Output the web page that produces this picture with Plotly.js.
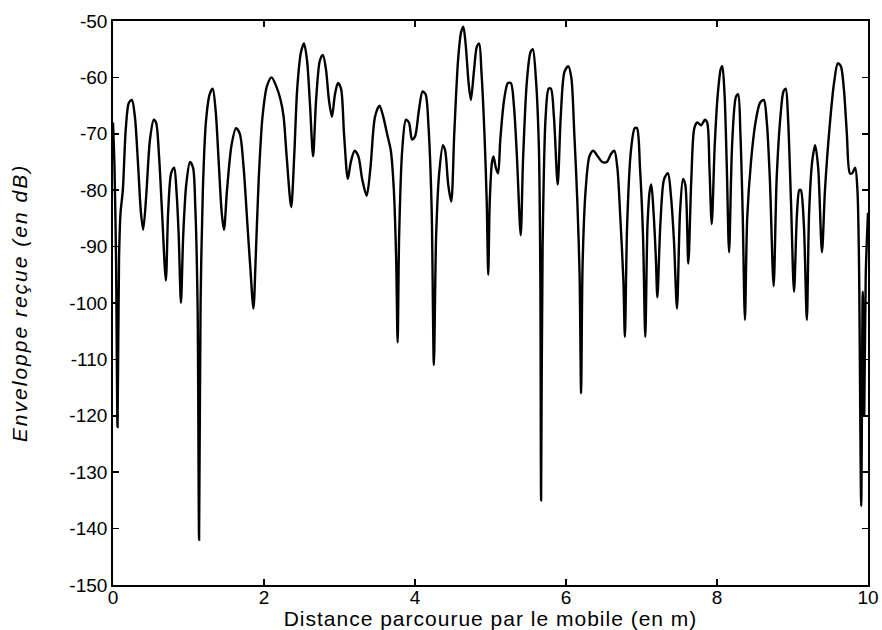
<!DOCTYPE html>
<html>
<head>
<meta charset="utf-8">
<script src="https://cdn.plot.ly/plotly-3.0.1.min.js"></script>
<style>
html,body{margin:0;padding:0;background:#fff;}
#chart{width:882px;height:630px;}
#chart .xtitle{letter-spacing:1px;}
#chart .ytitle{letter-spacing:2px;}
</style>
</head>
<body>
<div id="chart"></div>
<script>
// Distance travelled by the mobile (m)
const distance = [
0.00,0.02,0.04,0.06,0.08,0.10,0.13,0.17,0.21,0.25,0.29,0.33,0.37,0.40,0.44,0.49,0.54,0.57,0.61,0.65,
0.70,0.73,0.77,0.81,0.84,0.87,0.90,0.93,0.97,1.02,1.06,1.09,1.12,1.14,1.16,1.19,1.23,1.28,1.32,1.36,
1.40,1.44,1.47,1.51,1.57,1.63,1.68,1.73,1.78,1.82,1.86,1.89,1.93,1.98,2.04,2.10,2.16,2.22,2.26,2.30,
2.36,2.40,2.44,2.49,2.53,2.57,2.61,2.65,2.69,2.74,2.78,2.82,2.86,2.90,2.94,2.98,3.02,3.06,3.11,3.15,
3.20,3.25,3.30,3.36,3.41,3.47,3.53,3.58,3.63,3.68,3.72,3.75,3.77,3.79,3.83,3.88,3.92,3.96,4.00,4.05,
4.10,4.14,4.18,4.22,4.25,4.28,4.32,4.37,4.40,4.44,4.48,4.52,4.57,4.61,4.64,4.67,4.71,4.74,4.78,4.82,
4.85,4.88,4.92,4.95,4.97,4.99,5.02,5.04,5.07,5.10,5.13,5.18,5.23,5.27,5.31,5.35,5.40,5.43,5.48,5.53,
5.56,5.60,5.64,5.66,5.67,5.69,5.73,5.77,5.80,5.84,5.89,5.93,5.98,6.03,6.07,6.11,6.15,6.18,6.20,6.22,
6.26,6.31,6.36,6.42,6.48,6.54,6.60,6.64,6.68,6.72,6.76,6.78,6.81,6.86,6.91,6.94,6.98,7.02,7.05,7.08,
7.11,7.13,7.16,7.19,7.21,7.25,7.30,7.35,7.39,7.43,7.47,7.51,7.55,7.58,7.62,7.66,7.70,7.74,7.79,7.84,
7.87,7.90,7.93,7.97,8.01,8.05,8.07,8.10,8.13,8.16,8.20,8.25,8.28,8.31,8.34,8.37,8.40,8.45,8.51,8.57,
8.62,8.66,8.70,8.75,8.79,8.84,8.88,8.91,8.94,8.98,9.02,9.06,9.09,9.11,9.15,9.19,9.22,9.26,9.30,9.34,
9.39,9.43,9.49,9.55,9.60,9.64,9.68,9.72,9.76,9.79,9.83,9.86,9.88,9.91,9.93,9.95,9.97,10.00
];
// Received envelope (dB)
const envelopeDb = [
-68,-76,-92,-122,-92,-84,-80,-69,-64.5,-64,-67,-75,-84,-87,-81,-71,-67.5,-68,-74,-84,
-96,-84,-77,-76,-80,-88,-100,-88,-79,-75,-76,-83,-100,-142,-100,-80,-68,-63,-62,-66,
-75,-84,-87,-80,-72,-69,-70,-76,-86,-94,-101,-92,-78,-67,-61.5,-60,-61.5,-64,-67,-74,
-83,-74,-62,-55.5,-54,-57,-65,-74,-64,-57,-56,-58.5,-64,-67,-63,-61,-62,-70,-78,-75,
-73,-74,-78,-81,-76,-67,-65,-67,-70,-73,-80,-92,-107,-88,-73,-67.5,-68,-71,-70.5,-66,
-62.5,-63,-69,-83,-111,-88,-77,-72,-73,-79,-82,-70,-57,-52,-51,-54,-61,-64,-59,-54.5,
-54,-59,-70,-82,-95,-82,-75,-74,-76,-77,-71,-64,-61,-61,-65,-74,-88,-75,-61,-55.5,
-55,-60,-72,-95,-135,-90,-67,-62,-62,-67,-79,-67,-59,-58,-60,-70,-82,-95,-116,-93,
-80,-74,-73,-74,-75,-75,-73.5,-73,-76,-85,-96,-106,-86,-73,-69,-69,-76,-88,-106,-86,
-80,-79,-84,-92,-99,-86,-78,-77,-81,-89,-101,-84,-78,-79,-93,-78,-69,-68,-68.5,-67.5,
-68,-76,-86,-72,-63,-58.5,-58,-63,-76,-91,-72,-63.5,-63,-70,-84,-103,-85,-75,-68,-64.5,
-64,-68,-78,-97,-78,-67,-62.5,-62,-67,-82,-98,-84,-80,-80,-86,-103,-84,-75,-72,-76,
-91,-80,-69,-61,-57.5,-58,-62,-70,-77,-77,-76,-80,-92,-136,-98,-120,-95,-84
];
const xTicks = [0, 2, 4, 6, 8, 10];
const yTicks = [-150, -140, -130, -120, -110, -100, -90, -80, -70, -60, -50];

const trace = {
  x: distance,
  y: envelopeDb,
  type: 'scatter',
  mode: 'lines',
  line: {color: '#000000', width: 2.4, shape: 'spline', smoothing: 0.8},
  hoverinfo: 'x+y'
};

const tickFont = {family: 'Liberation Sans, Arial, sans-serif', size: 19, color: '#000'};

const layout = {
  width: 882,
  height: 630,
  margin: {l: 113, r: 14, t: 21, b: 45},
  paper_bgcolor: '#ffffff',
  plot_bgcolor: '#ffffff',
  showlegend: false,
  xaxis: {
    range: [0, 10],
    tickvals: xTicks,
    ticktext: xTicks.map(String),
    ticks: 'inside',
    ticklen: 6,
    tickwidth: 1.5,
    tickcolor: '#000',
    showline: true,
    linecolor: '#000',
    linewidth: 1.8,
    mirror: 'ticks',
    showgrid: false,
    zeroline: false,
    tickfont: tickFont,
    ticklabelstandoff: -6,
    automargin: false,
    title: {text: 'Distance parcourue par le mobile (en m)', font: {family: 'Liberation Sans, Arial, sans-serif', size: 21, color: '#000'}, standoff: 2}
  },
  yaxis: {
    range: [-150, -50],
    tickvals: yTicks,
    ticktext: yTicks.map(String),
    ticks: 'inside',
    ticklen: 6,
    tickwidth: 1.5,
    tickcolor: '#000',
    showline: true,
    linecolor: '#000',
    linewidth: 1.8,
    mirror: 'ticks',
    showgrid: false,
    zeroline: false,
    tickfont: tickFont,
    automargin: false,
    title: {text: 'Enveloppe reçue (en dB)', font: {family: 'Liberation Sans, Arial, sans-serif', size: 21, color: '#000', style: 'italic'}, standoff: 36}
  }
};

Plotly.newPlot('chart', [trace], layout, {displayModeBar: false, staticPlot: true});
</script>
</body>
</html>
